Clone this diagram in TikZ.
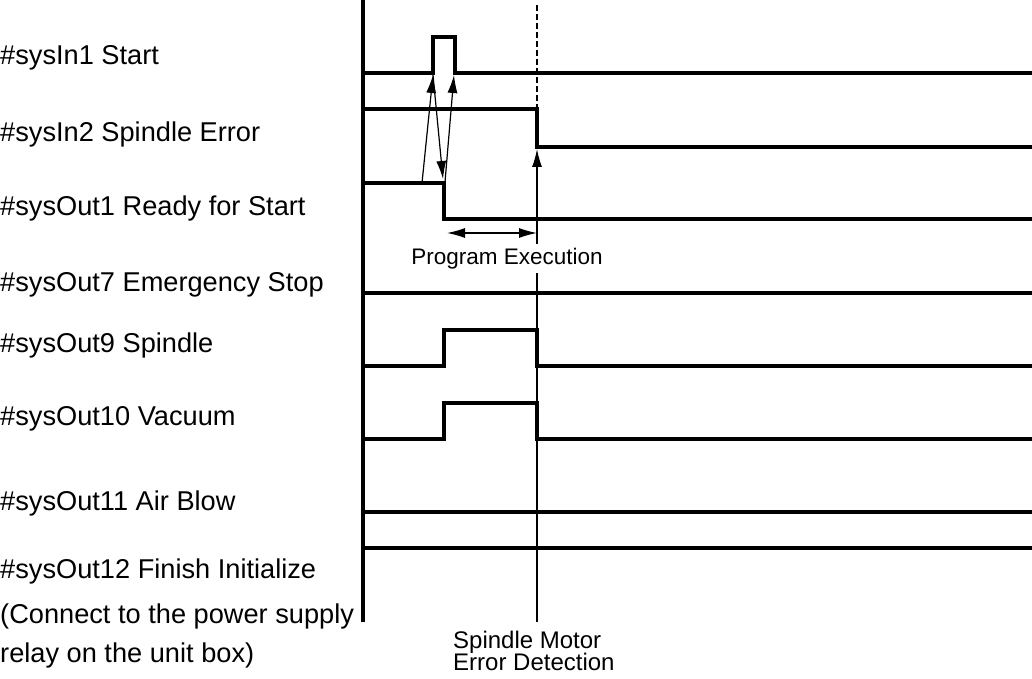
\documentclass[tikz,border=0pt]{standalone}
\usepackage{fontspec}
\setmainfont{Liberation Sans}
\usetikzlibrary{arrows.meta}
\begin{document}
\begin{tikzpicture}[x=1pt,y=-1pt,
  sig/.style={line width=3.3pt, line join=miter},
  axisline/.style={line width=3.5pt},
  conn/.style={line width=1.2pt},
  tip/.style={-{Latex[length=18pt,width=10pt]}},
  dtip/.style={{Latex[length=18pt,width=10pt]}-{Latex[length=18pt,width=10pt]}},
  lbl/.style={anchor=base west, inner sep=0pt, font=\fontsize{27.2}{32}\selectfont},
  small/.style={inner sep=0pt, font=\fontsize{22.5}{24}\selectfont},
  smallb/.style={inner sep=0pt, font=\fontsize{24}{24}\selectfont}]
\useasboundingbox (0,0) rectangle (1032,679);

% labels
\node[lbl] (l1) at (0,65) {\#sysIn1 Start};
\node[lbl] (l2) at (0,142) {\#sysIn2 Spindle Error};
\node[lbl] (l3) at (0,215) {\#sysOut1 Ready for Start};
\node[lbl] (l4) at (0,291) {\#sysOut7 Emergency Stop};
\node[lbl] (l5) at (0,352) {\#sysOut9 Spindle};
\node[lbl] (l6) at (0,425) {\#sysOut10 Vacuum};
\node[lbl] (l7) at (0,510) {\#sysOut11 Air Blow};
\node[lbl] (l8) at (0,578) {\#sysOut12 Finish Initialize};
\node[lbl] (l9) at (0,623) {(Connect to the power supply};
\node[lbl] (l10) at (0,662) {relay on the unit box)};

% axis
\draw[axisline] (363,0) -- (363,622);

% signals
\draw[sig] (363,73) -- (433,73) -- (433,37) -- (455,37) -- (455,73) -- (1034,73);
\draw[sig] (363,109) -- (537,109) -- (537,147) -- (1034,147);
\draw[sig] (363,183) -- (444,183) -- (444,219) -- (1034,219);
\draw[sig] (363,293) -- (1034,293);
\draw[sig] (363,366) -- (444,366) -- (444,330) -- (537,330) -- (537,366) -- (1034,366);
\draw[sig] (363,439) -- (444,439) -- (444,403) -- (537,403) -- (537,439) -- (1034,439);
\draw[sig] (363,512) -- (1034,512);
\draw[sig] (363,548) -- (1034,548);

% key points
\coordinate (rdy) at (422,183);
\coordinate (stUp) at (433,75);
\coordinate (rdyDn) at (443,179);
\coordinate (rdyDn2) at (445,182);
\coordinate (stDn) at (454,75);
\coordinate (peL) at (447,233);
\coordinate (peR) at (537,233);
\coordinate (dashTop) at (537,5);
\coordinate (dashBot) at (537,109);
\coordinate (errBot) at (537,622);
\coordinate (errTop) at (537,149);

% connectors
\draw[conn, dash pattern=on 6pt off 3pt] (dashTop) -- (dashBot);
\draw[conn, tip] (rdy) -- (stUp);
\draw[conn, tip] (stUp) -- (rdyDn);
\draw[conn, tip] (rdyDn2) -- (stDn);
\draw[conn, tip] (errBot) -- (errTop);
\draw[conn, dtip] (peL) -- (peR);

% small labels
\node[small, fill=white, inner ysep=4pt, anchor=base] (pe) at (507,264) {Program Execution};
\node[smallb, anchor=base west] (sm1) at (453,648) {Spindle Motor};
\node[smallb, anchor=base west] (sm2) at (453,670) {Error Detection};
\end{tikzpicture}
\end{document}
